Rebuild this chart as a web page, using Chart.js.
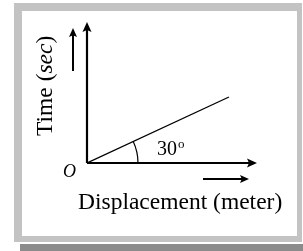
<!DOCTYPE html>
<html><head><meta charset="utf-8">
<script src="https://cdn.jsdelivr.net/npm/chart.js@4"></script>
<style>html,body{margin:0;padding:0;background:#fff}#w{width:303px;height:251px}</style>
</head><body><div id="w"><canvas id="c" width="303" height="251"></canvas></div>
<script>
// Data (conceptual units)
const lineX = [0, 8.35];
const lineY = [0, 4.68];
const xRange = [0, 10];
const yRange = [0, 10];
const xLabel = "Displacement (meter)";
const yLabelParts = [["Time (", false], ["sec", true], [")", false]];
const angleLabel = "30";
const originLabel = "O";

const SERIF = '"Liberation Serif", "DejaVu Serif", serif';

function arrowHead(ctx, x, y, dir, len, half) {
  ctx.save();
  ctx.translate(x, y);
  ctx.rotate(dir);
  ctx.beginPath();
  ctx.moveTo(0, 0);
  ctx.lineTo(-len, -half);
  ctx.lineTo(-len * 0.8, 0);
  ctx.lineTo(-len, half);
  ctx.closePath();
  ctx.fill();
  ctx.restore();
}

const framePlugin = {
  id: 'frame',
  beforeDraw(chart) {
    const ctx = chart.ctx;
    ctx.save();
    ctx.fillStyle = '#ffffff';
    ctx.fillRect(0, 0, 303, 251);
    ctx.fillStyle = '#8b8b8b';
    ctx.fillRect(20, 244, 283, 7);
    ctx.fillStyle = '#c3c3c3';
    ctx.fillRect(14, 3, 288, 239);
    ctx.fillStyle = '#ffffff';
    ctx.fillRect(22, 11, 275, 225);
    ctx.restore();
  },
  afterDraw(chart) {
    const ctx = chart.ctx;
    const xs = chart.scales.x, ys = chart.scales.y;
    const ox = xs.getPixelForValue(xRange[0]);
    const oy = ys.getPixelForValue(yRange[0]);
    const xe = xs.getPixelForValue(xRange[1]);
    const ye = ys.getPixelForValue(yRange[1]);
    ctx.save();
    ctx.strokeStyle = '#000';
    ctx.fillStyle = '#000';
    ctx.lineWidth = 2.2;
    // axes
    ctx.beginPath();
    ctx.moveTo(ox, oy); ctx.lineTo(xe - 5, oy);
    ctx.moveTo(ox, oy); ctx.lineTo(ox, ye + 5);
    ctx.stroke();
    arrowHead(ctx, xe, oy, 0, 10, 4.5);
    arrowHead(ctx, ox, ye, -Math.PI / 2, 10, 4.5);
    // small direction arrows
    ctx.lineWidth = 2;
    ctx.beginPath();
    ctx.moveTo(ox - 14, oy - 92); ctx.lineTo(ox - 14, ye + 10);
    ctx.moveTo(ox + 116, oy + 16); ctx.lineTo(xe - 13, oy + 16);
    ctx.stroke();
    arrowHead(ctx, ox - 14, ye + 6, -Math.PI / 2, 9, 4);
    arrowHead(ctx, xe - 8, oy + 16, 0, 9, 4);
    // angle arc
    const lx = xs.getPixelForValue(lineX[1]), ly = ys.getPixelForValue(lineY[1]);
    const ang = Math.atan2(ly - oy, lx - ox);
    ctx.lineWidth = 1.2;
    ctx.beginPath();
    ctx.arc(ox, oy, 51, ang, 0);
    ctx.stroke();
    // texts
    ctx.textBaseline = 'alphabetic';
    ctx.textAlign = 'left';
    ctx.font = '23.5px ' + SERIF;
    ctx.fillText(xLabel, 78, 209);
    ctx.font = '20px ' + SERIF;
    ctx.fillText(angleLabel, 157, 155);
    const w30 = ctx.measureText(angleLabel).width;
    ctx.font = '13px ' + SERIF;
    ctx.fillText('o', 157 + w30 + 1, 148);
    ctx.font = 'italic 18px ' + SERIF;
    ctx.fillText(originLabel, 63, 177);
    // rotated y label
    ctx.save();
    ctx.translate(52, 136);
    ctx.rotate(-Math.PI / 2);
    let px = 0;
    for (const [t, it] of yLabelParts) {
      ctx.font = (it ? 'italic ' : '') + '23.5px ' + SERIF;
      ctx.fillText(t, px, 0);
      px += ctx.measureText(t).width;
    }
    ctx.restore();
    ctx.restore();
  }
};

new Chart(document.getElementById('c'), {
  type: 'scatter',
  data: {
    datasets: [{
      data: lineX.map((x, i) => ({ x, y: lineY[i] })),
      showLine: true,
      borderColor: '#000',
      borderWidth: 1.3,
      pointRadius: 0,
      fill: false
    }]
  },
  options: {
    responsive: false,
    animation: false,
    layout: { padding: { left: 87, top: 22, right: 46, bottom: 88 } },
    plugins: { legend: { display: false }, tooltip: { enabled: false } },
    scales: {
      x: { type: 'linear', min: xRange[0], max: xRange[1], display: false },
      y: { type: 'linear', min: yRange[0], max: yRange[1], display: false }
    }
  },
  plugins: [framePlugin]
});
</script>
</body></html>
